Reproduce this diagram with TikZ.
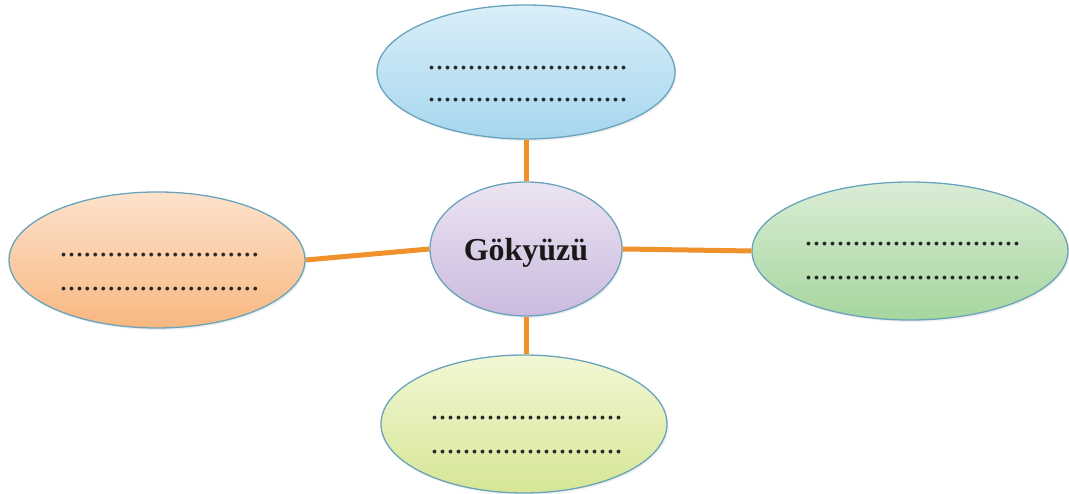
\documentclass[tikz,border=0pt]{standalone}
\usepackage{fontspec}
\setmainfont{Liberation Serif}
\usetikzlibrary{shapes.geometric,shadows}
\definecolor{rim}{HTML}{6AA3BC}
\definecolor{link}{HTML}{F0912C}
\tikzset{
  bubble/.style={ellipse, draw=rim, line width=1.3pt, inner sep=0pt,
    drop shadow={opacity=0.12, shadow xshift=1.5pt, shadow yshift=-2pt}},
  dots/.style={anchor=base, inner sep=0pt, font=\fontsize{32}{32}\selectfont, text=black!85},
  conn/.style={draw=link, line width=5pt},
}
\begin{document}
\begin{tikzpicture}[x=1pt,y=1pt]
\useasboundingbox (0,0) rectangle (1069,494);
% bubbles
\node[bubble, minimum width=298pt, minimum height=134pt, top color={rgb,255:red,218;green,239;blue,249}, bottom color={rgb,255:red,165;green,214;blue,238}] (top) at (526,422) {};
\node[bubble, minimum width=192pt, minimum height=134pt, top color={rgb,255:red,236;green,228;blue,242}, bottom color={rgb,255:red,203;green,186;blue,222}] (mid) at (526,245) {};
\node[bubble, minimum width=296pt, minimum height=136pt, top color={rgb,255:red,253;green,226;blue,204}, bottom color={rgb,255:red,248;green,183;blue,128}] (left) at (157,234) {};
\node[bubble, minimum width=316pt, minimum height=138pt, top color={rgb,255:red,218;green,237;blue,214}, bottom color={rgb,255:red,166;green,214;blue,158}] (right) at (910,243) {};
\node[bubble, minimum width=286pt, minimum height=138pt, top color={rgb,255:red,242;green,247;blue,212}, bottom color={rgb,255:red,214;green,230;blue,150}] (bottom) at (524,70) {};
% connectors
\draw[conn] (top.south) -- (mid.north);
\draw[conn] (left.east) -- (mid.west);
\draw[conn] (mid.east) -- (right.west);
\draw[conn] (mid.south) -- (mid.south |- bottom.north);
% texts
\node[anchor=base, inner sep=0pt, font=\fontsize{32}{32}\selectfont\bfseries, text=black!90] (title) at (526,233) {Gökyüzü};
\node[dots] (t1) at (527.5,424.5) {.........................};
\node[dots] (t2) at (527.5,392.5) {.........................};
\node[dots] (l1) at (159.5,237.5) {.........................};
\node[dots] (l2) at (159.5,203.5) {.........................};
\node[dots] (r1) at (912.5,248.5) {...........................};
\node[dots] (r2) at (912.5,214.5) {...........................};
\node[dots] (b1) at (526.5,74.5) {........................};
\node[dots] (b2) at (526.5,40.5) {........................};
\end{tikzpicture}
\end{document}
